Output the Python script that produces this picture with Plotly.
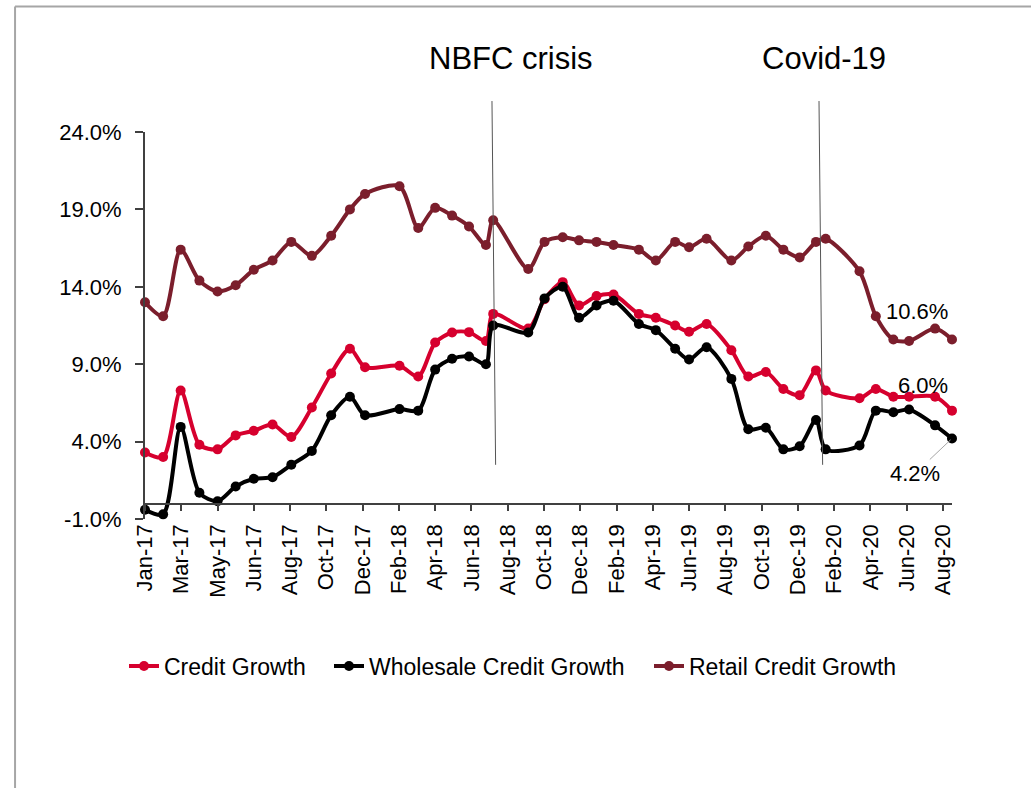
import plotly.graph_objects as go

# ---------------- data ----------------
dates = [
    "2017-01-01", "2017-01-31", "2017-03-01", "2017-04-01", "2017-05-01", "2017-05-31",
    "2017-06-30", "2017-07-31", "2017-08-31", "2017-10-04", "2017-11-05", "2017-12-06",
    "2017-12-31", "2018-02-26", "2018-03-29", "2018-04-26", "2018-05-24", "2018-06-21",
    "2018-07-19", "2018-07-31", "2018-09-27", "2018-10-24", "2018-11-23", "2018-12-20",
    "2019-01-18", "2019-02-15", "2019-03-29", "2019-04-26", "2019-05-28", "2019-06-20",
    "2019-07-19", "2019-08-29", "2019-09-26", "2019-10-25", "2019-11-23", "2019-12-20",
    "2020-01-16", "2020-02-01", "2020-03-28", "2020-04-24", "2020-05-23", "2020-06-18",
    "2020-07-31", "2020-08-28",
]
credit = [
    3.3, 3.0, 7.3, 3.8, 3.5, 4.4, 4.7, 5.1, 4.3, 6.2, 8.4, 10.0,
    8.8, 8.9, 8.2, 10.4, 11.05, 11.07, 10.5, 12.25, 11.3, 13.2, 14.3, 12.8,
    13.4, 13.5, 12.25, 12.0, 11.5, 11.1, 11.6, 9.9, 8.2, 8.5, 7.4, 7.0,
    8.6, 7.3, 6.8, 7.4, 6.9, 6.9, 6.9, 6.0,
]
wholesale = [
    -0.4, -0.7, 4.95, 0.7, 0.15, 1.1, 1.6, 1.7, 2.5, 3.4, 5.7, 6.9,
    5.7, 6.1, 6.0, 8.65, 9.35, 9.5, 9.0, 11.5, 11.05, 13.25, 14.0, 12.0,
    12.8, 13.1, 11.6, 11.2, 10.0, 9.3, 10.1, 8.05, 4.8, 4.9, 3.5, 3.7,
    5.4, 3.5, 3.75, 6.0, 5.9, 6.07, 5.05, 4.2,
]
retail = [
    13.0, 12.1, 16.4, 14.4, 13.7, 14.1, 15.1, 15.7, 16.9, 16.0, 17.3, 19.0,
    20.0, 20.5, 17.8, 19.1, 18.6, 17.9, 16.7, 18.3, 15.15, 16.9, 17.2, 17.0,
    16.9, 16.7, 16.4, 15.7, 16.9, 16.55, 17.1, 15.7, 16.6, 17.3, 16.4, 15.9,
    16.9, 17.1, 15.0, 12.1, 10.6, 10.5, 11.3, 10.6,
]
tick_dates = [
    "2017-01-01", "2017-03-02", "2017-05-01", "2017-06-30", "2017-08-29", "2017-10-28",
    "2017-12-27", "2018-02-25", "2018-04-26", "2018-06-25", "2018-08-24", "2018-10-23",
    "2018-12-22", "2019-02-20", "2019-04-21", "2019-06-20", "2019-08-19", "2019-10-18",
    "2019-12-17", "2020-02-15", "2020-04-15", "2020-06-14", "2020-08-13",
]
tick_labels = [
    "Jan-17", "Mar-17", "May-17", "Jun-17", "Aug-17", "Oct-17", "Dec-17", "Feb-18",
    "Apr-18", "Jun-18", "Aug-18", "Oct-18", "Dec-18", "Feb-19", "Apr-19", "Jun-19",
    "Aug-19", "Oct-19", "Dec-19", "Feb-20", "Apr-20", "Jun-20", "Aug-20",
]
y_ticks = [-1, 4, 9, 14, 19, 24]
events = [("NBFC crisis", "2018-07-29", "2018-08-04", "2018-08-29"),
          ("Covid-19", "2020-01-21", "2020-01-27", "2020-01-29")]

# ---------------- layout geometry ----------------
W, H = 1031, 788
L, R, T, B = 145, 78.7, 131.7, 268.7
YMIN, YMAX = -1, 24
PW, PH = W - L - R, H - T - B

def px_x(px):
    return (px - L) / PW

def px_y(py):
    return (H - B - py) / PH

def val_y(v):
    return (v - YMIN) / (YMAX - YMIN)

FONT = "Liberation Sans, Arial, sans-serif"
RED, BLACK, BROWN = "#D6002E", "#000000", "#7B1E2C"

fig = go.Figure()
series = [("Credit Growth", credit, RED, "legend"),
          ("Wholesale Credit Growth", wholesale, BLACK, "legend2"),
          ("Retail Credit Growth", retail, BROWN, "legend3")]
for name, vals, col, lg in series:
    fig.add_trace(go.Scatter(
        x=dates, y=vals, name=name, mode="lines+markers",
        line=dict(color=col, width=4, shape="spline", smoothing=0.8),
        marker=dict(size=10, color=col),
        cliponaxis=False, legend=lg,
    ))

shapes = []
annotations = []
for label, xt, xb, xl in events:
    shapes.append(dict(type="line", xref="x", yref="paper", x0=xt, x1=xb,
                       y0=val_y(26.0), y1=val_y(2.5),
                       line=dict(color="#555555", width=1)))
    annotations.append(dict(text=label, xref="x", yref="paper", x=xl, y=px_y(58),
                            showarrow=False, xanchor="center", yanchor="middle",
                            font=dict(family=FONT, size=31, color="#000000")))

# frame lines
shapes.append(dict(type="line", xref="paper", yref="paper", x0=px_x(15), x1=px_x(1040),
                   y0=px_y(6), y1=px_y(6), line=dict(color="#A6A6A6", width=2)))
shapes.append(dict(type="line", xref="paper", yref="paper", x0=px_x(15), x1=px_x(15),
                   y0=px_y(6), y1=px_y(800), line=dict(color="#A6A6A6", width=2)))

# end labels
annotations.append(dict(text=f"{retail[-1]:.1f}%", x=dates[-1], y=retail[-1], xref="x", yref="y",
                        showarrow=False, xanchor="right", yanchor="middle", xshift=-2, yshift=28,
                        font=dict(family=FONT, size=22, color="#000000")))
annotations.append(dict(text=f"{credit[-1]:.1f}%", x=dates[-1], y=credit[-1], xref="x", yref="y",
                        showarrow=False, xanchor="right", yanchor="middle", xshift=-2, yshift=25,
                        font=dict(family=FONT, size=22, color="#000000")))
annotations.append(dict(text=f"{wholesale[-1]:.1f}%", x=dates[-1], y=wholesale[-1], xref="x", yref="y",
                        showarrow=True, arrowhead=0, arrowwidth=1, arrowcolor="#A6A6A6",
                        ax=-37, ay=35, standoff=2,
                        font=dict(family=FONT, size=22, color="#000000")))

leg_y = 1 - 666 / H
legend_common = dict(orientation="h", xref="container", yref="container", y=leg_y,
                     xanchor="left", yanchor="middle", bgcolor="rgba(0,0,0,0)",
                     font=dict(family=FONT, size=23, color="#000000"))

fig.update_layout(
    width=W, height=H,
    margin=dict(l=L, r=R, t=T, b=B, autoexpand=False),
    paper_bgcolor="white", plot_bgcolor="white",
    font=dict(family=FONT, size=22, color="#000000"),
    xaxis=dict(type="date", range=[dates[0], dates[-1]], tickmode="array",
               tickvals=tick_dates, ticktext=tick_labels, tickangle=-90,
               ticks="outside", ticklen=6, tickwidth=1.5, tickcolor="#404040",
               showline=True, linecolor="#404040", linewidth=2,
               anchor="free", position=val_y(0), showgrid=False, zeroline=False,
               ticklabelstandoff=5,
               tickfont=dict(family=FONT, size=22, color="#000000")),
    yaxis=dict(range=[YMIN, YMAX], tickmode="array", tickvals=y_ticks,
               ticktext=[f"{v:.1f}%" for v in y_ticks],
               ticks="outside", ticklen=8, tickwidth=1.5, tickcolor="#404040",
               showline=True, linecolor="#404040", linewidth=2,
               showgrid=False, zeroline=False, ticklabelstandoff=9,
               tickfont=dict(family=FONT, size=22, color="#000000")),
    legend=dict(x=124 / W, **legend_common),
    legend2=dict(x=329 / W, **legend_common),
    legend3=dict(x=649 / W, **legend_common),
    shapes=shapes, annotations=annotations,
    showlegend=True,
)

fig.write_html("out.html", config={"displayModeBar": False},
               post_script="document.body.style.margin='0';")
